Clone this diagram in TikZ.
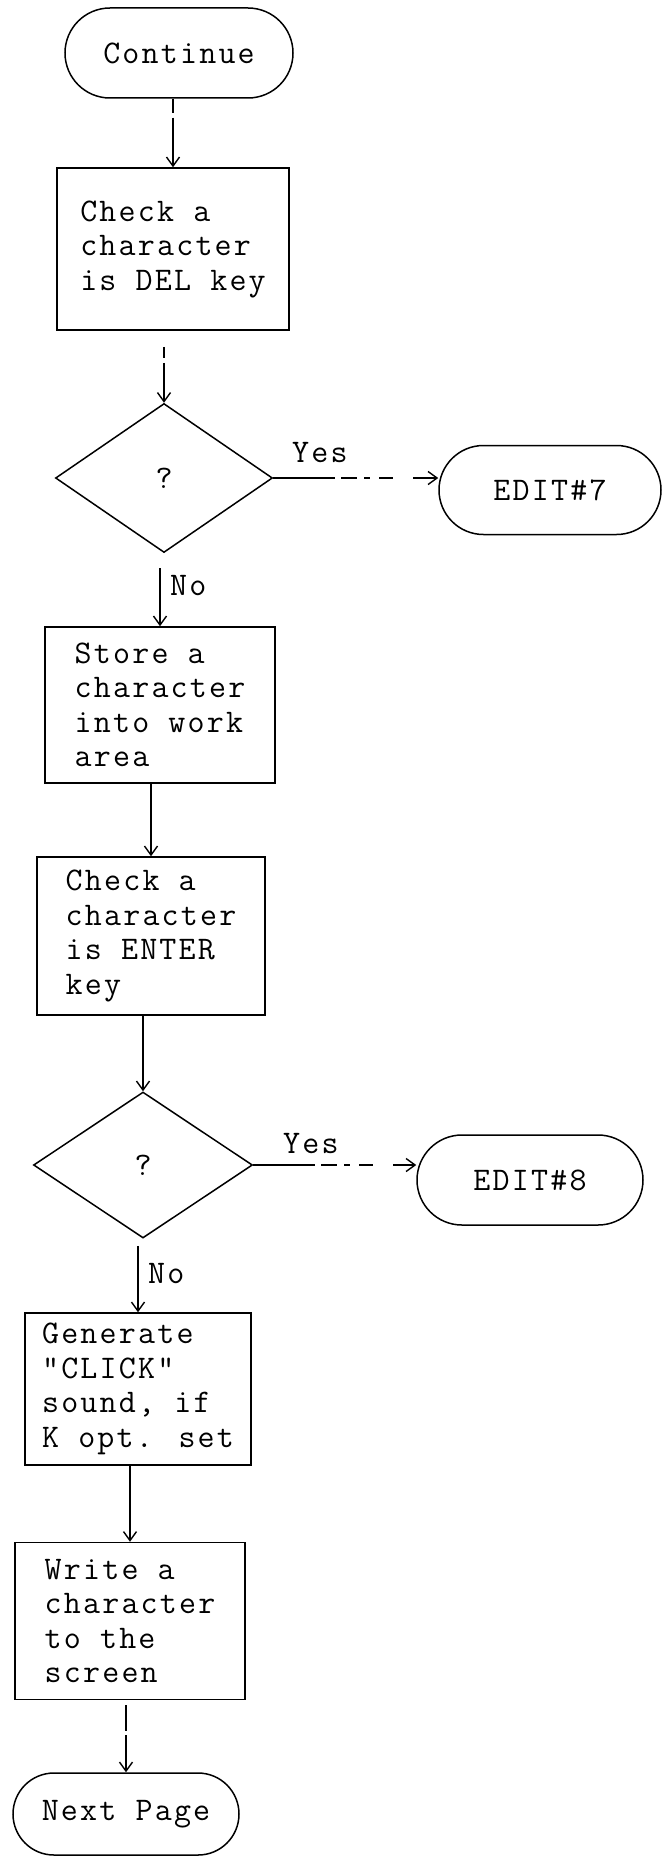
\documentclass[tikz,border=0pt]{standalone}
\usepackage{fontspec}
\newfontfamily\typewr{Latin Modern Mono}[LetterSpace=6.7]
\usetikzlibrary{shapes.geometric,shapes.misc,arrows.meta}
\begin{document}
\begin{tikzpicture}[x=1pt,y=-1pt,
  every node/.style={font=\typewr\fontsize{33}{34.5}\selectfont, text=black},
  termbox/.style={rounded rectangle, draw=black, line width=1.5pt, inner sep=0pt},
  procbox/.style={rectangle, draw=black, line width=1.5pt, align=left, inner sep=0pt},
  decbox/.style={diamond, draw=black, line width=1.5pt, inner sep=0pt},
  lbl/.style={inner sep=0pt, anchor=base west},
  flow/.style={draw=black, line width=1.4pt,
    -{Straight Barb[length=9pt,width=13pt,line width=1.4pt]}},
  yesline/.style={dash pattern=on 62pt off 6pt on 16pt off 7pt on 6pt off 9pt on 14pt off 20pt on 30pt}
]
\useasboundingbox (0,0) rectangle (662,1857);

% terminators, process boxes and decisions
\node[termbox, minimum width=228pt, minimum height=90pt] (cont) at (179,53) {Continue};
\node[procbox, minimum width=232pt, minimum height=162pt] (chk1) at (173,249)
  {Check a\\character\\is DEL key};
\node[decbox, minimum width=217pt, minimum height=149pt] (d1) at (164,478) {?};
\node[termbox, minimum width=222pt, minimum height=89pt] (e7) at (550,490) {EDIT\#7};
\node[procbox, minimum width=230pt, minimum height=156pt] (store) at (160,705)
  {Store a\\character\\into work\\area};
\node[procbox, minimum width=228pt, minimum height=158pt] (chk2) at (151,936)
  {Check a\\character\\is ENTER\\key};
\node[decbox, minimum width=219pt, minimum height=146pt] (d2) at (143,1165) {?};
\node[termbox, minimum width=226pt, minimum height=90pt] (e8) at (530,1180) {EDIT\#8};
\node[procbox, minimum width=226pt, minimum height=152pt] (gen) at (138,1389)
  {Generate\\"CLICK"\\sound, if\\K opt. set};
\node[procbox, minimum width=230pt, minimum height=157pt] (write) at (130,1621)
  {Write a\\character\\to the\\screen};
\node[termbox, minimum width=226pt, minimum height=82pt] (next) at (126,1814) {Next Page};

% branch labels
\node[lbl] (yes1) at (292,462) {Yes};
\node[lbl] (no1) at (170,595) {No};
\node[lbl] (yes2) at (283,1153) {Yes};
\node[lbl] (no2) at (148,1283) {No};

% connectors
\draw[flow, dash pattern=on 14pt off 5pt on 200pt] (chk1.north |- cont.south) -- (chk1.north);
\draw[flow, shorten <=16pt, dash pattern=on 11pt off 5pt on 200pt] (d1.north |- chk1.south) -- (d1.north);
\draw[flow, yesline] (d1.east) -- (d1.east -| e7.west);
\draw[flow, shorten <=15pt] (store.north |- d1.south) -- (store.north);
\draw[flow] (chk2.north |- store.south) -- (chk2.north);
\draw[flow] (d2.north |- chk2.south) -- (d2.north);
\draw[flow, yesline] (d2.east) -- (d2.east -| e8.west);
\draw[flow, shorten <=7pt] (gen.north |- d2.south) -- (gen.north);
\draw[flow] (write.north |- gen.south) -- (write.north);
\draw[flow, shorten <=5pt, dash pattern=on 26pt off 4pt on 200pt] (next.north |- write.south) -- (next.north);
\end{tikzpicture}
\end{document}
